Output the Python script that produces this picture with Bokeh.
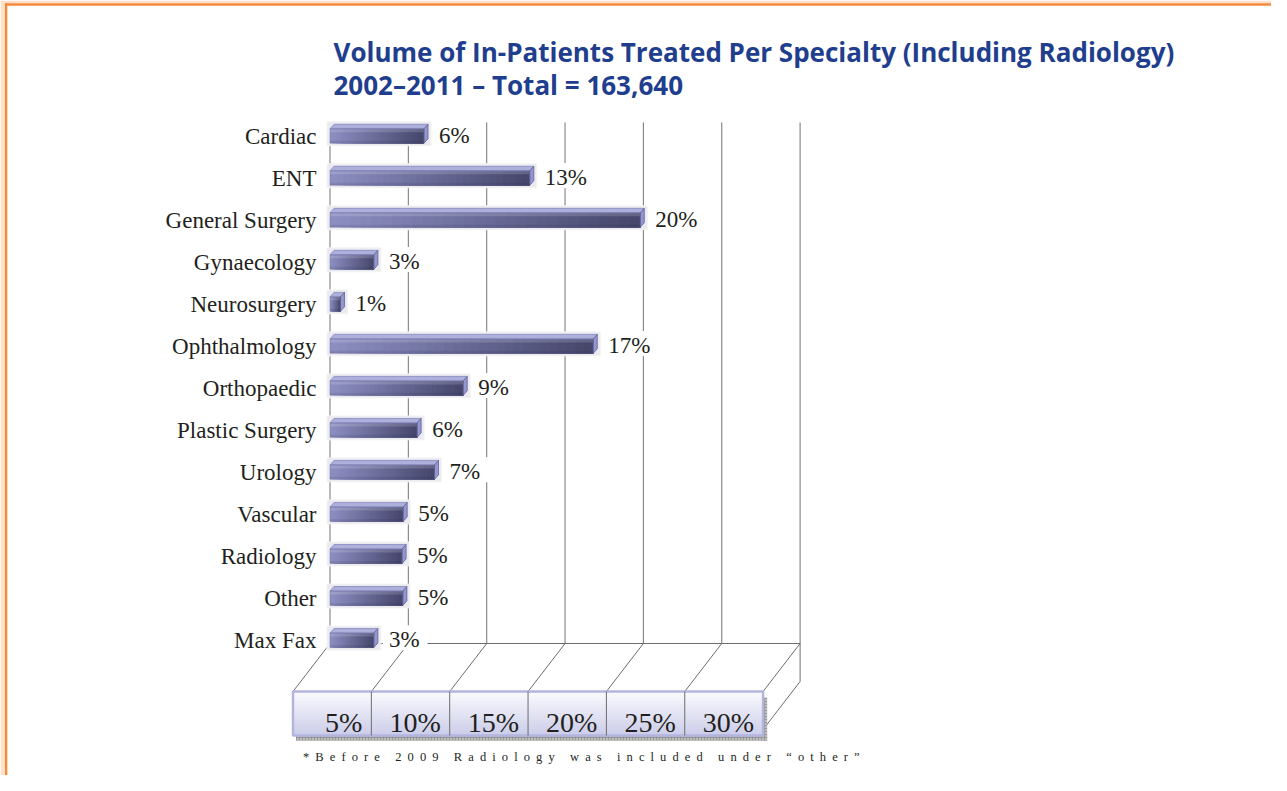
from bokeh.plotting import figure
from bokeh.models import Range1d, ColumnDataSource, Label, Div
from bokeh.layouts import column
from bokeh.embed import file_html
from bokeh.resources import INLINE
from bokeh.core.properties import value

# ---------------- data ----------------
categories = ["Cardiac", "ENT", "General Surgery", "Gynaecology", "Neurosurgery",
              "Ophthalmology", "Orthopaedic", "Plastic Surgery", "Urology",
              "Vascular", "Radiology", "Other", "Max Fax"]
shares = [6.0, 12.75, 19.8, 2.8, 0.67, 16.8, 8.5, 5.56, 6.67, 4.67, 4.6, 4.65, 2.8]
share_labels = ["6%", "13%", "20%", "3%", "1%", "17%", "9%", "6%", "7%", "5%", "5%", "5%", "3%"]
axis_ticks = [0, 5, 10, 15, 20, 25, 30]
axis_tick_labels = ["5%", "10%", "15%", "20%", "25%", "30%"]
title_lines = ["Volume of In-Patients Treated Per Specialty (Including Radiology)",
               "2002\u20132011 \u2013 Total = 163,640"]
footnote = "*Before 2009 Radiology was included under \u201cother\u201d"

# ---------------- geometry (picture pixels -> data units) ----------------
W, H = 1271, 775
PX = 15.67   # px per percent
RY = 42.02   # px per category row
X0 = 329.5   # picture x of 0 %
Y0 = 135.5   # picture y of first row centre


def dx(px):
    return px / PX


def dy(px):
    return px / RY


def fx(px_x):
    return (px_x - X0) / PX


def fy(px_y):
    return (px_y - Y0) / RY


p = figure(width=W, height=H, output_backend="svg", toolbar_location=None,
           x_range=Range1d(fx(0), fx(W)), y_range=Range1d(fy(H), fy(0)),
           x_axis_location=None, y_axis_location=None, min_border=0)
p.grid.visible = False
p.outline_line_color = None
p.background_fill_color = "white"
p.border_fill_color = "white"

SERIF = "Liberation Serif"
TXT = "#231f20"

# ---------------- page frame (left and top edges) ----------------
p.quad(left=fx(0), right=fx(4.5), top=fy(0), bottom=fy(H), fill_color="#fde0c6", line_color=None)
p.quad(left=fx(0), right=fx(W), top=fy(0), bottom=fy(2.8), fill_color="#fde0c6", line_color=None)
p.quad(left=fx(4.5), right=fx(6.8), top=fy(2.8), bottom=fy(H), fill_color="#f5883a", line_color=None)
p.quad(left=fx(4.5), right=fx(W), top=fy(2.8), bottom=fy(5.3), fill_color="#f5883a", line_color=None)

# ---------------- back wall grid ----------------
top_y = fy(122)
back_y = fy(643)
shift_x = dx(37)
front_top = fy(691)
front_bot = fy(735)
xmax = axis_ticks[-1]

p.segment(x0=axis_ticks, y0=[top_y] * len(axis_ticks), x1=axis_ticks, y1=[back_y] * len(axis_ticks),
          line_color="#808080", line_width=1.1)
p.segment(x0=[0], y0=[back_y], x1=[xmax], y1=[back_y], line_color="#6d6d6d", line_width=1.1)
p.segment(x0=axis_ticks, y0=[back_y] * len(axis_ticks),
          x1=[t - shift_x for t in axis_ticks], y1=[front_top] * len(axis_ticks),
          line_color="#6d6d6d", line_width=1)
p.segment(x0=[xmax, xmax], y0=[back_y, fy(681)], x1=[xmax, xmax - shift_x], y1=[fy(681), fy(729)],
          line_color="#6d6d6d", line_width=1)

# shadow under the front box
p.quad(left=[-shift_x + dx(3), xmax - shift_x], right=[xmax - shift_x + dx(4), xmax - shift_x + dx(4)],
       top=[front_bot, fy(697)], bottom=[fy(740), fy(740)],
       fill_color="#bdbdbd", line_color=None, hatch_pattern="cross", hatch_color="#8a8a8a",
       hatch_scale=3, hatch_weight=0.7)

# front box with vertical gradient
M = 14
c_top = (249, 249, 253)
c_bot = (205, 206, 234)
for k in range(M):
    f = k / (M - 1)
    col = "#%02x%02x%02x" % tuple(int(round(a + (b - a) * f)) for a, b in zip(c_top, c_bot))
    t0 = front_top + (front_bot - front_top) * k / M
    p.quad(left=-shift_x, right=xmax - shift_x, top=t0, bottom=front_bot, fill_color=col, line_color=None)
p.quad(left=-shift_x, right=xmax - shift_x, top=front_top, bottom=front_bot, fill_color=None,
       line_color="#b3b5df", line_width=2.5)
mid_ticks = axis_ticks[1:-1]
p.segment(x0=[t - shift_x for t in mid_ticks], y0=[front_top] * len(mid_ticks),
          x1=[t - shift_x for t in mid_ticks], y1=[front_bot] * len(mid_ticks),
          line_color="#6d6d6d", line_width=1)
p.text(x=[t - shift_x for t in axis_ticks[1:]], y=[fy(722)] * len(axis_tick_labels), text=axis_tick_labels,
       x_offset=-9, text_align="right", text_baseline="middle",
       text_font=value(SERIF), text_font_size="28px", text_color=TXT)

# ---------------- bars ----------------
rows = list(range(len(categories)))
h = dy(7.2)
depth_x = dx(4)
depth_y = dy(4.5)

# white backing boxes for the value labels (hide grid lines behind them)
lab_w = [(0.5 * (len(s) - 1) + 0.833) * 23 for s in share_labels]
p.quad(left=[v + depth_x + dx(5) for v in shares],
       right=[v + depth_x + dx(11 + w + 8) for v, w in zip(shares, lab_w)],
       top=[r - dy(15) for r in rows], bottom=[r + dy(10) for r in rows],
       fill_color="white", line_color=None)

# halo behind bars
p.quad(left=[-dx(3)] * len(rows), right=[v + depth_x + dx(3) for v in shares],
       top=[r - h - depth_y - dy(2.5) for r in rows], bottom=[r + h + dy(2.5) for r in rows],
       fill_color="#eaeaef", line_color="#f4f4f6", line_width=1)

# front faces: horizontal gradient (each slice runs to the bar end, so no seams)
N = 30
c_left = (140, 142, 194)
c_right = (70, 71, 108)
L, R, T, B, C = [], [], [], [], []
for r, v in zip(rows, shares):
    for k in range(N):
        f = k / (N - 1)
        col = "#%02x%02x%02x" % tuple(int(round(a + (b - a) * f)) for a, b in zip(c_left, c_right))
        L.append(v * k / N)
        R.append(v)
        T.append(r - h)
        B.append(r + h)
        C.append(col)
p.quad(source=ColumnDataSource(dict(left=L, right=R, top=T, bottom=B, color=C)),
       left="left", right="right", top="top", bottom="bottom",
       fill_color="color", line_color=None)
# subtle top highlight / bottom shade of the front face
p.quad(left=[0] * len(rows), right=shares, top=[r - h for r in rows], bottom=[r - h + dy(3.5) for r in rows],
       fill_color="white", fill_alpha=0.16, line_color=None)
p.quad(left=[0] * len(rows), right=shares, top=[r + h - dy(2.5) for r in rows], bottom=[r + h for r in rows],
       fill_color="black", fill_alpha=0.08, line_color=None)

# top faces
top_xs = [[0, depth_x, v + depth_x, v] for v in shares]
top_ys = [[r - h, r - h - depth_y, r - h - depth_y, r - h] for r in rows]
p.patches(xs=top_xs, ys=top_ys, fill_color="#aeb0dc", line_color="#8587c0", line_width=0.8)
# right faces
side_xs = [[v, v + depth_x, v + depth_x, v] for v in shares]
side_ys = [[r - h, r - h - depth_y, r + h - depth_y, r + h] for r in rows]
p.patches(xs=side_xs, ys=side_ys, fill_color="#9496cc", line_color="#5f6199", line_width=0.8)
# front outline
p.quad(left=[0] * len(rows), right=shares, top=[r - h for r in rows], bottom=[r + h for r in rows],
       fill_color=None, line_color="#5c5e8e", line_width=0.6, line_alpha=0.6)

# value labels
p.text(x=[v + depth_x for v in shares], y=rows, text=share_labels, x_offset=11, y_offset=-1,
       text_align="left", text_baseline="middle",
       text_font=value(SERIF), text_font_size="23px", text_color=TXT)

# category labels
p.text(x=[0] * len(rows), y=rows, text=categories, x_offset=-13.5, text_align="right",
       text_baseline="middle", text_font=value(SERIF), text_font_size="23px", text_color=TXT)

# ---------------- title ----------------
for line, cy in zip(title_lines, [51.2, 84.0]):
    p.add_layout(Label(x=fx(333), y=fy(cy), text=line, text_align="left", text_baseline="middle",
                       text_font="Open Sans", text_font_style="bold", text_font_size="26px",
                       text_color="#1f3e8e"))

# ---------------- footnote ----------------
note = Div(text=footnote, width=720, height=20, margin=(-25, 0, 0, 303),
           styles={"font-family": "Liberation Serif", "font-size": "12.5px",
                   "letter-spacing": "6.1px", "color": TXT, "white-space": "nowrap",
                   "line-height": "normal"})

layout = column(p, note)
open("out.html", "w").write(file_html(layout, INLINE))
